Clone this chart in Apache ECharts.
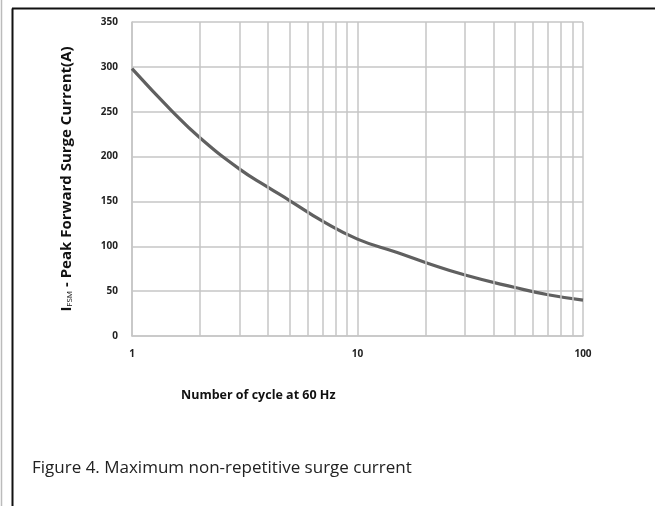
<!DOCTYPE html>
<html>
<head>
<meta charset="utf-8">
<script src="https://cdn.jsdelivr.net/npm/echarts@6/dist/echarts.min.js"></script>
<style>
html,body{margin:0;padding:0;background:#fff;}
#chart{width:655px;height:506px;}
</style>
</head>
<body>
<div id="chart"></div>
<script>
// Data
const cycles = [1, 1.5, 2, 3, 4, 5, 7, 10, 15, 20, 30, 50, 70, 100];
const surgeCurrent = [298, 251, 221, 186, 166, 151, 128, 108, 93, 82, 68, 54, 46, 40];
const minorGridX = [2, 3, 4, 5, 6, 7, 8, 9, 20, 30, 40, 50, 60, 70, 80, 90];
const yTicks = [0, 50, 100, 150, 200, 250, 300, 350];

const chart = echarts.init(document.getElementById('chart'));
const gridColor = '#c6c6c6';
const tickFont = { fontFamily: 'Open Sans', fontWeight: 'bold', fontSize: 10, color: '#222' };

chart.setOption({
  animation: false,
  backgroundColor: '#fff',
  grid: { left: 132, right: 72, top: 22, bottom: 170, containLabel: false },
  xAxis: {
    type: 'log', logBase: 10, min: 1, max: 100,
    axisLine: { show: true, lineStyle: { color: gridColor, width: 1.5 } },
    axisTick: { show: false },
    axisLabel: Object.assign({ margin: 13 }, tickFont),
    splitLine: { show: true, lineStyle: { color: gridColor, width: 1.5 } },
    minorTick: { show: false }, minorSplitLine: { show: false }
  },
  yAxis: {
    type: 'value', min: yTicks[0], max: yTicks[yTicks.length - 1], interval: 50,
    name: '{i|I}{s|FSM}{t| - Peak Forward Surge Current(A)}',
    nameLocation: 'middle', nameRotate: 90, nameGap: 58,
    nameTextStyle: {
      rich: {
        i: { fontFamily: 'Open Sans', fontWeight: 'bold', fontSize: 15, color: '#111' },
        s: { fontFamily: 'Open Sans', fontSize: 8, color: '#111', verticalAlign: 'bottom' },
        t: { fontFamily: 'Open Sans', fontWeight: 'bold', fontSize: 15, color: '#111' }
      }
    },
    axisLine: { show: true, lineStyle: { color: gridColor, width: 1.5 } },
    axisTick: { show: false },
    axisLabel: Object.assign({ margin: 14 }, tickFont),
    splitLine: { show: true, lineStyle: { color: gridColor, width: 1.5 } }
  },
  series: [{
    type: 'line',
    data: cycles.map((c, i) => [c, surgeCurrent[i]]),
    smooth: 0.5,
    showSymbol: false,
    lineStyle: { color: '#606060', width: 3.2 },
    z: 3,
    markLine: {
      silent: true, symbol: 'none', animation: false,
      label: { show: false },
      lineStyle: { color: gridColor, width: 1.5, type: 'solid' },
      data: minorGridX.map(v => ({ xAxis: v }))
    }
  }],
  title: [
    { text: 'Number of cycle at 60 Hz', left: 181, top: 389, padding: 0,
      textStyle: { fontFamily: 'Open Sans', fontWeight: 'bold', fontSize: 12.5, color: '#111' } },
    { text: 'Figure 4. Maximum non-repetitive surge current', left: 32, top: 460, padding: 0,
      textStyle: { fontFamily: 'Open Sans', fontWeight: 'normal', fontSize: 17, color: '#222' } }
  ],
  graphic: [
    { type: 'line', shape: { x1: 1.5, y1: 0, x2: 1.5, y2: 506 }, style: { stroke: '#bbbbbb', lineWidth: 1.5 } },
    { type: 'line', shape: { x1: 12.5, y1: 8.5, x2: 12.5, y2: 506 }, style: { stroke: '#111', lineWidth: 2 } },
    { type: 'line', shape: { x1: 12, y1: 8.5, x2: 655, y2: 8.5 }, style: { stroke: '#111', lineWidth: 2 } }
  ]
});
</script>
</body>
</html>
